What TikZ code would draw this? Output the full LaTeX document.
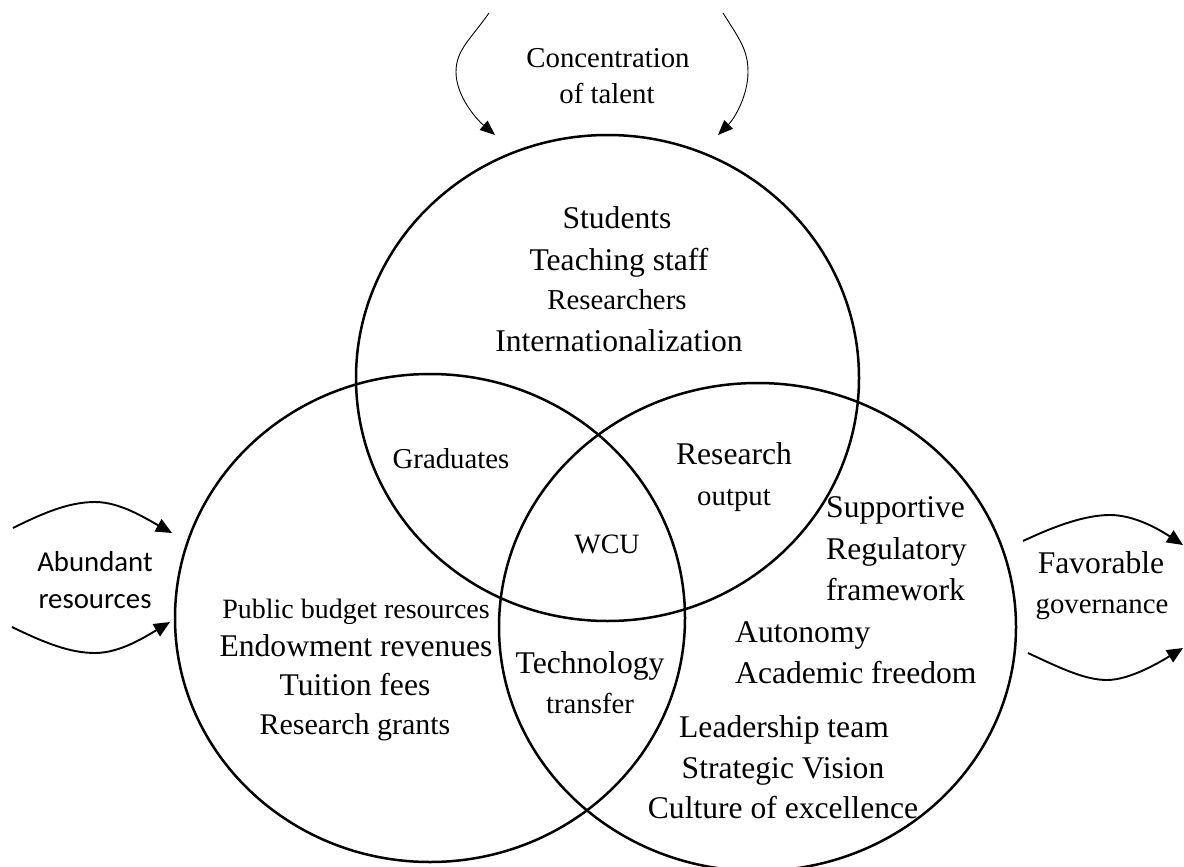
\documentclass[tikz,border=0pt]{standalone}
\usepackage{fontspec}
\setmainfont{Liberation Serif}
\newfontfamily\calfont{Carlito}
\usetikzlibrary{shapes.geometric,arrows.meta}

\begin{document}
\begin{tikzpicture}[x=1pt,y=-1pt,
  setcircle/.style={draw, ellipse, line width=2.5pt, inner sep=0pt, outer sep=0pt},
  lbl/.style={inner sep=0pt, anchor=base},
  lblw/.style={inner sep=0pt, anchor=base west},
  szA/.style={font=\fontsize{31.6}{36}\selectfont},
  szB/.style={font=\fontsize{28.8}{33}\selectfont},
  szS/.style={font=\calfont\fontsize{28.8}{33}\selectfont},
  thinflow/.style={line width=0.9pt, -{Triangle[length=15pt,width=12pt]}},
  sideflow/.style={line width=1.9pt, -{Triangle[length=16pt,width=14pt]}}]

\useasboundingbox (0,0) rectangle (1184,867);

% the three sets
\node[setcircle, minimum width=503pt, minimum height=486pt] (talent) at (607.5,378) {};
\node[setcircle, minimum width=510pt, minimum height=488pt] (resources) at (430,618) {};
\node[setcircle, minimum width=517pt, minimum height=488pt] (governance) at (757.5,627) {};

% inflow of talent from above
\coordinate (tl0) at (489,13);
\coordinate (tl1) at (456,72);
\coordinate (tl2) at (495,135);
\coordinate (tr0) at (723,13);
\coordinate (tr1) at (748,72);
\coordinate (tr2) at (718,135);
\draw[thinflow] (tl0) .. controls (470,40) and (456,50) .. (tl1)
                      .. controls (456,95) and (475,118) .. (tl2);
\draw[thinflow] (tr0) .. controls (740,40) and (748,50) .. (tr1)
                      .. controls (748,95) and (735,118) .. (tr2);
\node[lbl, szB] (conc) at (608,67) {Concentration};
\node[lbl, szB] (oftal) at (607,103) {of talent};

% inflow of resources from the left
\coordinate (lu0) at (13,528);
\coordinate (lu1) at (95,502);
\coordinate (lu2) at (172,533);
\coordinate (ll0) at (12,627);
\coordinate (ll1) at (95,653);
\coordinate (ll2) at (170,622);
\draw[sideflow] (lu0) .. controls (45,512) and (70,502) .. (lu1)
                      .. controls (120,502) and (145,518) .. (lu2);
\draw[sideflow] (ll0) .. controls (45,643) and (70,653) .. (ll1)
                      .. controls (120,653) and (145,637) .. (ll2);
\node[lbl, szS] (abund) at (95,571) {Abundant};
\node[lbl, szS] (resrc) at (95,608) {resources};

% governance arrows on the right
\coordinate (ru0) at (1023,541);
\coordinate (ru1) at (1110,515);
\coordinate (ru2) at (1183,545);
\coordinate (rl0) at (1028,653);
\coordinate (rl1) at (1107,680);
\coordinate (rl2) at (1183,648);
\draw[sideflow] (ru0) .. controls (1055,526) and (1085,515) .. (ru1)
                      .. controls (1135,515) and (1160,530) .. (ru2);
\draw[sideflow] (rl0) .. controls (1060,668) and (1085,680) .. (rl1)
                      .. controls (1130,680) and (1160,662) .. (rl2);
\node[lbl, szA] (favor) at (1101,573) {Favorable};
\node[lbl, szB] (govern) at (1102,613) {governance};

% talent set
\node[lbl, szA] (stud) at (617,228) {Students};
\node[lbl, szA] (teach) at (619,270) {Teaching staff};
\node[lbl, szB] (resr) at (617,309) {Researchers};
\node[lbl, szA] (intl) at (619,351) {Internationalization};

% overlaps
\node[lbl, szB] (grad) at (451,468) {Graduates};
\node[lbl, font=\fontsize{28}{32}\selectfont] (wcu) at (607,553) {WCU};
\node[lbl, szA] (rsch) at (734,464) {Research};
\node[lbl, szB] (outp) at (734,505) {output};
\node[lbl, szA] (tech) at (590,673) {Technology};
\node[lbl, szB] (trans) at (590,713) {transfer};

% resources set
\node[lbl, font=\fontsize{28}{32}\selectfont] (pub) at (356,618) {Public budget resources};
\node[lbl, szA] (endow) at (356,656) {Endowment revenues};
\node[lbl, szA] (tuit) at (355,695) {Tuition fees};
\node[lbl, font=\fontsize{30}{34}\selectfont] (grant) at (355,734) {Research grants};

% governance set
\node[lblw, szA] (supp) at (826,517) {Supportive};
\node[lblw, szA] (regu) at (826,559) {Regulatory};
\node[lblw, szA] (frame) at (826,600) {framework};
\node[lblw, szA] (auto) at (735,642) {Autonomy};
\node[lblw, szA] (acad) at (735,683) {Academic freedom};
\node[lbl, szA] (lead) at (784,737) {Leadership team};
\node[lbl, szA] (strat) at (783,778) {Strategic Vision};
\node[lbl, szA] (cult) at (783,818) {Culture of excellence};

\end{tikzpicture}
\end{document}
